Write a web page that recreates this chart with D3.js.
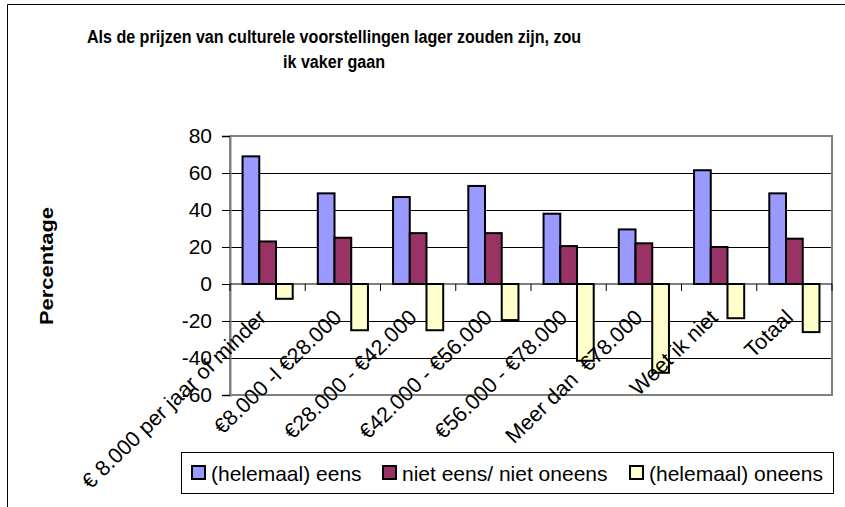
<!DOCTYPE html>
<html>
<head>
<meta charset="utf-8">
<script src="https://cdn.jsdelivr.net/npm/d3@7"></script>
<style>
  body { margin: 0; background: #fff; }
  text { font-family: Arial, "Liberation Sans", sans-serif; white-space: pre; }
</style>
</head>
<body>
<div class="canvas"></div>
<script>
const categories = [
    '\u20AC 8.000 per jaar of minder',
    '\u20AC8.000 -l \u20AC28.000',
    '\u20AC28.000 - \u20AC42.000',
    '\u20AC42.000 - \u20AC56.000',
    '\u20AC56.000 - \u20AC78.000',
    'Meer dan  \u20AC78.000',
    'Weet ik niet',
    'Totaal'
];
const seriesNames = ['(helemaal) eens', 'niet eens/ niet oneens', '(helemaal) oneens'];
const eens = [69, 49, 47, 53, 38, 29.5, 61.5, 49];
const neutraal = [23, 25, 27.5, 27.5, 20.5, 22, 20, 24.5];
const oneens = [-8, -25, -25, -19.5, -41.5, -48, -18.5, -26];
const yTicks = [80, 60, 40, 20, 0, -20, -40, -60];
const colors = ['#9999ff', '#993366', '#ffffcc'];

const dims = {width: 845, height: 507};
const plot = {left: 230, right: 832, top: 136, bottom: 395};

const svg = d3.select('.canvas')
    .append('svg')
    .attr('width', dims.width)
    .attr('height', dims.height);

// outer chart frame
svg.append('path')
    .attr('d', `M7.5,${dims.height} V4.5 H${dims.width}`)
    .attr('fill', 'none')
    .attr('stroke', '#000')
    .attr('stroke-width', 1);

// title
const titleLines = ['Als de prijzen van culturele voorstellingen lager zouden zijn, zou', 'ik vaker gaan'];
svg.selectAll('.title')
    .data(titleLines)
    .enter()
    .append('text')
    .attr('class', 'title')
    .attr('transform', (d, i) => `translate(334, ${43 + i * 25}) scale(0.87, 1)`)
    .attr('text-anchor', 'middle')
    .attr('font-size', 18.5)
    .attr('font-weight', 'bold')
    .text(d => d);

const x0 = d3.scaleBand()
    .domain(categories)
    .range([plot.left, plot.right])
    .paddingInner(1.5 / 4.5)
    .paddingOuter(0.75 / 4.5);

const x1 = d3.scaleBand()
    .domain(seriesNames)
    .range([0, x0.bandwidth()]);

const y = d3.scaleLinear()
    .domain([-60, 80])
    .range([plot.bottom, plot.top]);

const step = x0.step();

// gridlines
svg.append('g')
    .selectAll('line')
    .data(yTicks.filter(t => t !== 0 && t !== 80 && t !== -60))
    .enter()
    .append('line')
    .attr('x1', plot.left)
    .attr('x2', plot.right)
    .attr('y1', d => Math.round(y(d)) + 0.5)
    .attr('y2', d => Math.round(y(d)) + 0.5)
    .attr('stroke', '#000')
    .attr('stroke-width', 1);

// plot border
svg.append('rect')
    .attr('x', plot.left)
    .attr('y', plot.top)
    .attr('width', plot.right - plot.left)
    .attr('height', plot.bottom - plot.top)
    .attr('fill', 'none')
    .attr('stroke', '#808080')
    .attr('stroke-width', 2);

// y axis
const yAxis = d3.axisLeft(y)
    .tickValues(yTicks)
    .tickFormat(d => String(d))
    .tickSize(8)
    .tickPadding(10);

const yAxisG = svg.append('g')
    .attr('transform', `translate(${plot.left}, 0)`)
    .call(yAxis);

yAxisG.select('.domain').attr('stroke', '#808080').attr('stroke-width', 2);
yAxisG.selectAll('.tick line').attr('stroke', '#000');
yAxisG.selectAll('.tick text')
    .attr('font-size', 21)
    .attr('font-family', 'Arial, "Liberation Sans", sans-serif')
    .attr('fill', '#000');

// y label
svg.append('text')
    .attr('transform', 'translate(53, 266) rotate(-90)')
    .attr('text-anchor', 'middle')
    .attr('font-size', 17.5)
    .attr('font-weight', 'bold')
    .attr('textLength', 118)
    .attr('lengthAdjust', 'spacingAndGlyphs')
    .text('Percentage');

// bars
const seriesValues = [eens, neutraal, oneens];
const groups = svg.append('g')
    .selectAll('g')
    .data(categories)
    .enter()
    .append('g')
    .attr('transform', d => `translate(${x0(d)}, 0)`);

groups.selectAll('rect')
    .data((d, i) => seriesNames.map((s, j) => ({series: s, value: seriesValues[j][i], idx: j})))
    .enter()
    .append('rect')
    .attr('x', d => x1(d.series))
    .attr('width', x1.bandwidth())
    .attr('y', d => y(Math.max(0, d.value)))
    .attr('height', d => Math.abs(y(d.value) - y(0)))
    .attr('fill', d => colors[d.idx])
    .attr('stroke', '#000')
    .attr('stroke-width', 2);

// category axis on zero line
svg.append('line')
    .attr('x1', plot.left)
    .attr('x2', plot.right)
    .attr('y1', y(0))
    .attr('y2', y(0))
    .attr('stroke', '#000')
    .attr('stroke-width', 1);

svg.append('g')
    .selectAll('line')
    .data(d3.range(categories.length + 1))
    .enter()
    .append('line')
    .attr('x1', i => plot.left + i * step)
    .attr('x2', i => plot.left + i * step)
    .attr('y1', y(0))
    .attr('y2', y(0) + 7)
    .attr('stroke', '#000')
    .attr('stroke-width', 1);

// category labels
svg.append('g')
    .selectAll('text')
    .data(categories)
    .enter()
    .append('text')
    .attr('transform', d => `translate(${x0(d) + x0.bandwidth() / 2}, 319) rotate(-44)`)
    .attr('text-anchor', 'end')
    .attr('font-size', 21.5)
    .text(d => d);

// legend
const legendX = [192, 383, 630];
svg.append('rect')
    .attr('x', 181.5)
    .attr('y', 452.5)
    .attr('width', 652)
    .attr('height', 41)
    .attr('fill', '#fff')
    .attr('stroke', '#000')
    .attr('stroke-width', 1);

const legendItems = svg.append('g')
    .selectAll('g')
    .data(seriesNames)
    .enter()
    .append('g')
    .attr('transform', (d, i) => `translate(${legendX[i]}, 466)`);

legendItems.append('rect')
    .attr('width', 13)
    .attr('height', 13)
    .attr('fill', (d, i) => colors[i])
    .attr('stroke', '#000')
    .attr('stroke-width', 2);

legendItems.append('text')
    .attr('x', 19)
    .attr('y', 15)
    .attr('font-size', 21)
    .text(d => d);
</script>
</body>
</html>
